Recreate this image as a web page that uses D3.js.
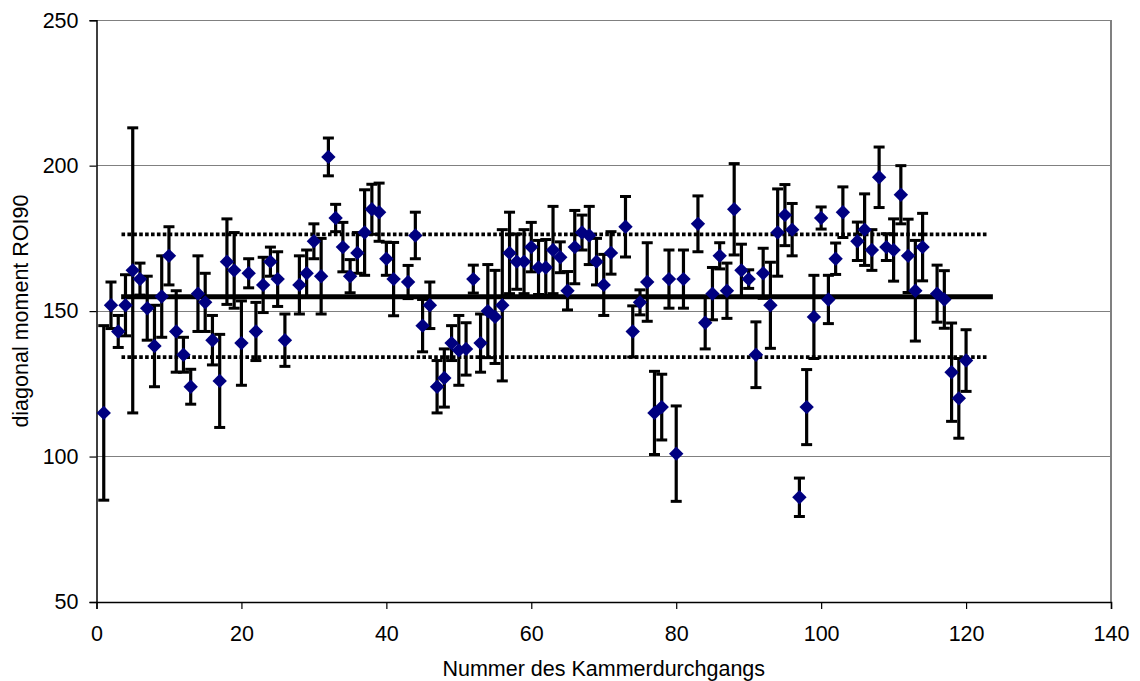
<!DOCTYPE html>
<html>
<head>
<meta charset="utf-8">
<script src="https://cdn.jsdelivr.net/npm/d3@7"></script>
<style>
  html, body { margin: 0; padding: 0; background: #fff; }
  svg { display: block; font-family: "Liberation Sans", Arial, sans-serif; }
</style>
</head>
<body>
<svg id="chart" width="1140" height="681"></svg>
<script>
// ---- data ----
const passNumber = [1,2,3,4,5,6,7,8,9,10,11,12,13,14,15,16,17,18,19,20,21,22,23,24,25,26,28,29,30,31,32,33,34,35,36,37,38,39,40,41,43,44,45,46,47,48,49,50,51,52,53,54,55,56,57,58,59,60,61,62,63,64,65,66,67,68,69,70,71,73,74,75,76,77,78,79,80,81,83,84,85,86,87,88,89,90,91,92,93,94,95,96,97,98,99,100,101,102,103,105,106,107,108,109,110,111,112,113,114,116,117,118,119,120];
const momentValue = [115,152,143,152,164,161,151,138,155,169,143,135,124,156,153,140,126,167,164,139,163,143,159,167,161,140,159,163,174,162,203,182,172,162,170,177,185,184,168,161,160,176,145,152,124,127,139,136.5,137,161,139,150,148,152,170,167,167,172,165,165,171,168.5,157,172,177,176,167,159,170,179,143,153,160,115,117,161,101,161,180,146,156,169,157,185,164,161,135,163,152,177,183,178,86,117,148,182,154,168,184,174,178,171,196,172,171,190,169,157,172,156,154,129,120,133];
const momentError = [30,8,5.5,10.5,49,5.5,11,14,14,10,14,6,6,13,10,8.5,16,14.7,13,14.5,5,10,9.5,5,9.4,9,10,8,6,13,6.5,4.7,8.5,5.7,7,14.7,8.6,10,5.7,12.6,5.7,8,9,8,9,10,6,12,9,4.8,10,16,16,26,14,9.5,11,8.5,9.3,9.6,15,5.3,6.6,12.6,6,10,8,10.5,7.3,10.4,8.8,4.3,13.5,14.3,11.3,10,16.4,10,9.6,9,9,4.5,9.5,15.7,9,3.2,11.3,8.6,14.8,15,10.5,9,6.6,12.9,14.3,3.8,8.3,5.4,8.7,6.6,12.3,7,10.4,4.6,10.7,10,12.6,17.3,11.6,9.8,9.9,16.9,13.7,10.6];
const meanLineX = [3.4, 123.7];
const meanLineY = [154.9, 154.9];
const upperLineX = [3.45, 123.0];
const upperLineY = [176.4, 176.4];
const lowerLineX = [3.45, 123.0];
const lowerLineY = [134.2, 134.2];
const xTicks = [0,20,40,60,80,100,120,140];
const yTicks = [50,100,150,200,250];
const xTitle = "Nummer des Kammerdurchgangs";
const yTitle = "diagonal moment ROI90";

// ---- layout ----
const svg = d3.select("#chart");
const pLeft = 96.5, pRight = 1111, pTop = 20.2, pBottom = 602;
const x = d3.scaleLinear().domain([0,140]).range([pLeft, pRight]);
const y = d3.scaleLinear().domain([50,250]).range([pBottom, pTop]);
const fontSize = "21.5px";

// gridlines
svg.append("g").selectAll("line").data(yTicks.filter(v => v > 50)).join("line")
  .attr("x1", pLeft).attr("x2", pRight)
  .attr("y1", d => y(d)).attr("y2", d => y(d))
  .attr("stroke", "#808080").attr("stroke-width", 1).attr("shape-rendering", "crispEdges");
// right border of plot area
svg.append("line").attr("x1", pRight).attr("x2", pRight).attr("y1", pTop).attr("y2", pBottom)
  .attr("stroke", "#808080").attr("stroke-width", 1.5).attr("shape-rendering", "crispEdges");

// axes
const xAxis = svg.append("g").attr("transform", `translate(0,${pBottom})`)
  .call(d3.axisBottom(x).tickValues(xTicks).tickSize(7).tickPadding(17).tickFormat(d3.format("d")));
const yAxis = svg.append("g").attr("transform", `translate(${pLeft},0)`)
  .call(d3.axisLeft(y).tickValues(yTicks).tickSize(7).tickPadding(11).tickFormat(d3.format("d")));
[xAxis, yAxis].forEach(a => {
  a.select(".domain").attr("stroke", "#000").attr("stroke-width", 1.5);
  a.selectAll(".tick line").attr("stroke", "#000").attr("stroke-width", 1.2);
  a.selectAll(".tick text").attr("fill", "#000").style("font-size", fontSize)
    .style("font-family", '"Liberation Sans", Arial, sans-serif');
});

// reference lines
const line = d3.line().x(d => x(d[0])).y(d => y(d[1]));
svg.append("path").datum(d3.zip(upperLineX, upperLineY)).attr("d", line)
  .attr("stroke", "#000").attr("stroke-width", 3.8).attr("stroke-dasharray", "3.6,2.3").attr("fill", "none");
svg.append("path").datum(d3.zip(lowerLineX, lowerLineY)).attr("d", line)
  .attr("stroke", "#000").attr("stroke-width", 3.8).attr("stroke-dasharray", "3.6,2.3").attr("fill", "none");

// error bars
const pts = passNumber.map((n, i) => ({ n, v: momentValue[i], e: momentError[i] }));
const eb = svg.append("g").selectAll("g").data(pts).join("g");
eb.append("line")
  .attr("x1", d => x(d.n)).attr("x2", d => x(d.n))
  .attr("y1", d => y(d.v + d.e)).attr("y2", d => y(d.v - d.e))
  .attr("stroke", "#000").attr("stroke-width", 3.2);
eb.append("line")
  .attr("x1", d => x(d.n) - 5.5).attr("x2", d => x(d.n) + 5.5)
  .attr("y1", d => y(d.v + d.e)).attr("y2", d => y(d.v + d.e))
  .attr("stroke", "#000").attr("stroke-width", 3);
eb.append("line")
  .attr("x1", d => x(d.n) - 5.5).attr("x2", d => x(d.n) + 5.5)
  .attr("y1", d => y(d.v - d.e)).attr("y2", d => y(d.v - d.e))
  .attr("stroke", "#000").attr("stroke-width", 3);

// mean line
svg.append("path").datum(d3.zip(meanLineX, meanLineY)).attr("d", line)
  .attr("stroke", "#000").attr("stroke-width", 5).attr("fill", "none");

// diamonds
svg.append("g").selectAll("path").data(pts).join("path")
  .attr("transform", d => `translate(${x(d.n)},${y(d.v)})`)
  .attr("d", "M0,-7.2L7.2,0L0,7.2L-7.2,0Z")
  .attr("fill", "#000080");

// titles
svg.append("text").attr("x", (pLeft + pRight) / 2).attr("y", 676)
  .attr("text-anchor", "middle").style("font-size", fontSize).attr("fill", "#000").text(xTitle);
svg.append("text").attr("transform", `translate(28,${(pTop + pBottom) / 2}) rotate(-90)`)
  .attr("text-anchor", "middle").style("font-size", fontSize).attr("fill", "#000").text(yTitle);
</script>
</body>
</html>
